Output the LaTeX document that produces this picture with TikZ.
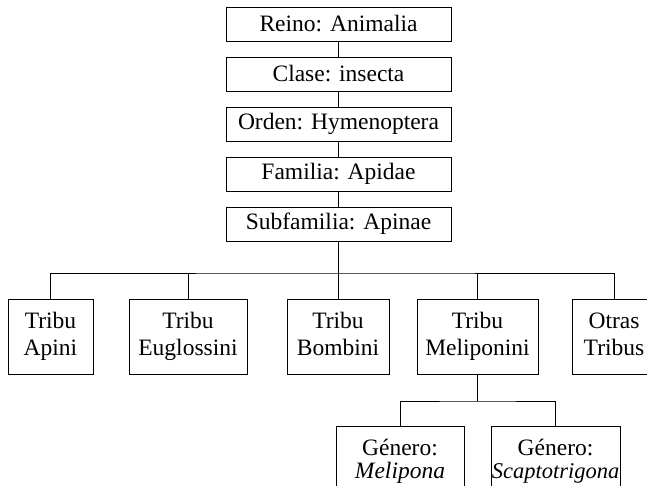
\documentclass[tikz,border=0pt]{standalone}
\usepackage{fontspec}
\setmainfont{Liberation Serif}
\begin{document}
\begin{tikzpicture}[x=1pt,y=-1pt,line width=0.8pt,
  every node/.style={font=\fontsize{23.5}{27}\selectfont},
  box/.style={draw,inner sep=0pt,align=center,minimum height=34pt,minimum width=225pt},
  tbox/.style={draw,inner sep=0pt,align=center,minimum height=75pt},
  gbox/.style={draw,inner sep=0pt,align=center,minimum height=72pt}]
\useasboundingbox (0,0) rectangle (647,486);
\clip (0,0) rectangle (647,486);
\node[box] (reino) at (338.5,24) {Reino: Animalia};
\node[box] (clase) at (338.5,74) {Clase: insecta};
\node[box] (orden) at (338.5,124) {Orden: Hymenoptera};
\node[box] (fam) at (338.5,174) {Familia: Apidae};
\node[box] (sub) at (338.5,224) {Subfamilia: Apinae};
\draw (reino) -- (clase);
\draw (clase) -- (orden);
\draw (orden) -- (fam);
\draw (fam) -- (sub);
\coordinate (bus) at (338.5,273);
\node[tbox,minimum width=85pt] (apini) at (50.5,336.5) {Tribu\strut\\Apini\strut};
\node[tbox,minimum width=118pt] (eug) at (188,336.5) {Tribu\strut\\Euglossini\strut};
\node[tbox,minimum width=102pt] (bomb) at (338,336.5) {Tribu\strut\\Bombini\strut};
\node[tbox,minimum width=121pt] (meli) at (477.5,336.5) {Tribu\strut\\Meliponini\strut};
\node[tbox,minimum width=84pt] (otras) at (614,336.5) {Otras\strut\\Tribus\strut};
\draw (sub) -- (bus);
\draw (apini.north) |- (bus) -| (otras.north);
\draw (eug.north) -- (eug.north |- bus);
\draw (bomb.north) -- (bomb.north |- bus);
\draw (meli.north) -- (meli.north |- bus);
\coordinate (gbus) at (477.5,401);
\node[gbox,text width=128pt] (melip) at (400,462) {Género:\strut\\[-4pt]\textit{Melipona}\strut};
\node[gbox,text width=129pt] (scap) at (555.5,462) {Género:\strut\\[-4pt]{\fontsize{22.5}{27}\selectfont\textit{Scaptotrigona}}\strut};
\draw (meli) -- (gbus);
\draw (melip.north) |- (gbus) -| (scap.north);
\end{tikzpicture}
\end{document}
